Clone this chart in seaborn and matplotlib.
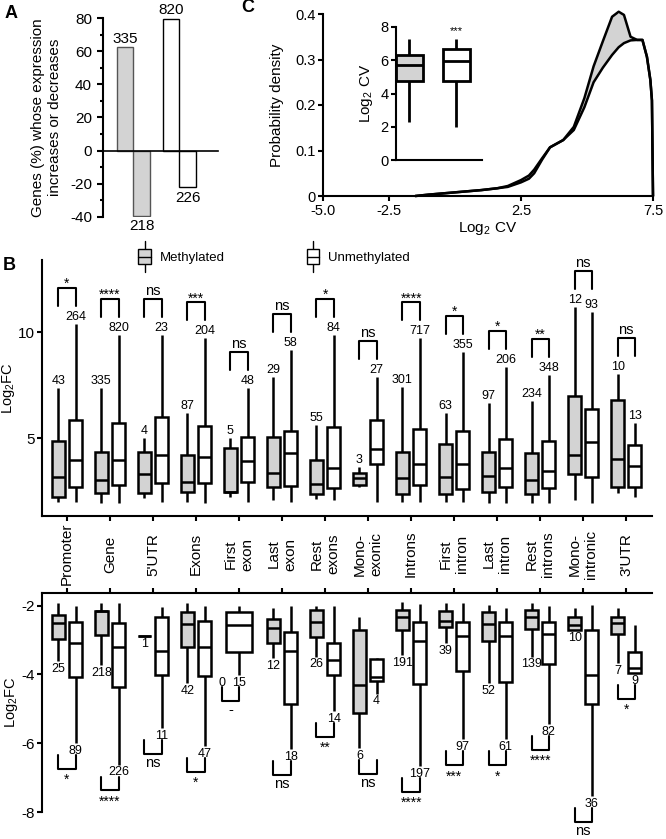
import numpy as np
import pandas as pd
import matplotlib.pyplot as plt
import seaborn as sns
from matplotlib.legend_handler import HandlerBase
from matplotlib.patches import Patch, Rectangle
from matplotlib.lines import Line2D
from matplotlib.ticker import MultipleLocator

# ---- panel A: % of genes going up / down
bar_groups = ['Methylated', 'Unmethylated']
bar_dirs = ['Up', 'Down']
bar_pct = [62.3, -39.2, 79.4, -22.1]
bar_counts = [335, 218, 820, 226]

# ---- panel B
groups = ['Methylated', 'Unmethylated']
regions = ['Promoter', 'Gene', "5'UTR", 'Exons', 'First\nexon', 'Last\nexon',
           'Rest\nexons', 'Mono-\nexonic', 'Introns', 'First\nintron',
           'Last\nintron', 'Rest\nintrons', 'Mono-\nintronic', "3'UTR"]

# [low whisker, Q1, median, Q3, high whisker] of Log2FC
meth_up = [
    [2.00, 2.23, 3.18, 4.86, 7.34], [1.92, 2.39, 3.02, 4.36, 7.34],
    [2.15, 2.39, 3.30, 4.36, 4.98], [2.00, 2.47, 2.94, 4.20, 6.19],
    [2.23, 2.47, 2.47, 4.51, 4.98], [2.08, 2.67, 3.36, 5.03, 7.89],
    [2.10, 2.36, 2.83, 3.96, 5.61], [2.67, 2.78, 3.10, 3.36, 3.65],
    [2.00, 2.34, 3.10, 4.36, 7.42], [2.00, 2.36, 3.14, 4.70, 6.16],
    [1.95, 2.47, 3.21, 4.36, 6.67], [1.95, 2.36, 3.02, 4.28, 6.76],
    [2.08, 3.30, 4.20, 7.00, 11.2], [2.42, 2.67, 4.00, 6.79, 8.02],
]
unmeth_up = [
    [2.00, 2.67, 3.96, 5.85, 10.38], [1.92, 2.78, 3.96, 5.69, 9.86],
    [2.00, 2.86, 4.20, 5.97, 9.86], [1.92, 2.86, 4.09, 5.58, 9.70],
    [2.00, 2.94, 3.93, 5.06, 7.34], [2.00, 2.74, 4.31, 5.35, 9.15],
    [2.08, 2.63, 3.57, 5.53, 9.86], [2.00, 3.76, 4.47, 5.85, 7.89],
    [2.00, 2.78, 3.76, 5.41, 9.70], [2.00, 2.61, 3.76, 5.33, 9.07],
    [1.95, 2.70, 3.57, 4.95, 8.36], [1.92, 2.63, 3.46, 4.86, 7.97],
    [1.95, 3.18, 4.80, 6.35, 10.96], [2.23, 2.67, 3.68, 4.67, 5.72],
]
meth_up_n = [43, 335, 4, 87, 5, 29, 55, 3, 301, 63, 97, 234, 12, 10]
unmeth_up_n = [264, 820, 23, 204, 48, 58, 84, 27, 717, 355, 206, 348, 93, 13]
up_sig = ['*', '****', 'ns', '***', 'ns', 'ns', '*', 'ns', '****', '*', '*',
          '**', 'ns', 'ns']

meth_down = [
    [-3.62, -2.97, -2.49, -2.27, -1.93], [-3.72, -2.85, -2.15, -2.15, -1.93],
    [-2.88, -2.88, -2.88, -2.88, -2.88], [-4.25, -3.21, -2.54, -2.17, -1.93],
    None, [-3.53, -3.09, -2.66, -2.40, -2.08],
    [-3.48, -2.92, -2.46, -2.13, -2.01], [-6.14, -5.12, -4.32, -2.71, -2.34],
    [-3.43, -2.71, -2.34, -2.13, -1.88], [-3.09, -2.61, -2.44, -2.15, -1.93],
    [-4.25, -3.04, -2.54, -2.19, -1.98], [-3.48, -2.69, -2.34, -2.13, -1.93],
    [-2.71, -2.71, -2.56, -2.32, -2.08], [-3.67, -2.83, -2.49, -2.32, -2.08],
]
unmeth_down = [
    [-5.99, -4.08, -3.09, -2.46, -2.01], [-6.62, -4.35, -3.19, -2.51, -1.93],
    [-5.56, -4.01, -3.33, -2.32, -2.03], [-6.09, -4.04, -3.19, -2.43, -2.01],
    [-4.01, -3.36, -2.56, -2.17, -2.01], [-6.18, -4.85, -3.33, -2.75, -2.01],
    [-5.07, -4.01, -3.59, -3.09, -2.01], [-4.56, -4.18, -4.06, -3.56, -3.53],
    [-6.67, -4.28, -3.04, -2.46, -1.96], [-5.89, -3.91, -2.88, -2.46, -1.93],
    [-5.89, -4.22, -2.88, -2.46, -2.08], [-5.44, -3.70, -2.83, -2.46, -2.01],
    [-7.54, -4.85, -4.01, -2.71, -1.98], [-3.96, -3.96, -3.80, -3.36, -2.56],
]
meth_down_n = [25, 218, 1, 42, 0, 12, 26, 6, 191, 39, 52, 139, 10, 7]
unmeth_down_n = [89, 226, 11, 47, 15, 18, 14, 4, 197, 97, 61, 82, 36, 9]
down_sig = ['*', '****', 'ns', '*', '-', 'ns', '**', 'ns', '****', '***', '*',
            '****', 'ns', '*']

# ---- panel C: density of Log2 CV
cv_x = [-1.5, -1.0, 0.0, 1.0, 1.6, 2.0, 2.5, 2.8, 3.0, 3.3, 3.6, 4.1, 4.5,
        4.9, 5.25, 5.6, 5.95, 6.2, 6.4, 6.65, 6.9, 7.1, 7.27, 7.4, 7.46, 7.5]
cv_meth = [0.0, 0.003, 0.008, 0.013, 0.017, 0.022, 0.035, 0.045, 0.058, 0.083,
           0.107, 0.123, 0.152, 0.215, 0.285, 0.34, 0.394, 0.405, 0.398, 0.35,
           0.343, 0.343, 0.306, 0.255, 0.21, 0.0]
cv_unmeth = [0.0, 0.003, 0.008, 0.013, 0.017, 0.02, 0.03, 0.038, 0.05, 0.08,
             0.107, 0.123, 0.145, 0.195, 0.25, 0.282, 0.31, 0.327, 0.336, 0.342,
             0.343, 0.343, 0.306, 0.255, 0.21, 0.0]
inset_meth = [2.3, 4.76, 5.7, 6.34, 7.26]
inset_unmeth = [2.0, 4.76, 5.94, 6.7, 7.26]

GRAY = '#d3d3d3'
palette = {'Methylated': GRAY, 'Unmethylated': 'white'}

sns.set_style('ticks')
plt.rcParams['font.family'] = ['Liberation Sans', 'DejaVu Sans']
plt.rcParams['mathtext.default'] = 'regular'
plt.rcParams['axes.unicode_minus'] = False
for k in ['axes.edgecolor', 'xtick.color', 'ytick.color', 'text.color',
          'axes.labelcolor']:
    plt.rcParams[k] = 'black'
plt.rcParams['axes.linewidth'] = 1.5
plt.rcParams['xtick.major.width'] = 1.5
plt.rcParams['ytick.major.width'] = 1.5
plt.rcParams['ytick.minor.width'] = 1.5
plt.rcParams['xtick.major.size'] = 3.5
plt.rcParams['ytick.major.size'] = 3.5
plt.rcParams['ytick.minor.size'] = 2.5

W, H = 666, 839
fig = plt.figure(figsize=(W / 100, H / 100), dpi=100)


def rect(x0, y0, x1, y1):
    return [x0 / W, 1 - y1 / H, (x1 - x0) / W, (y1 - y0) / H]


class BoxHandle(HandlerBase):
    def create_artists(self, legend, orig_handle, xdescent, ydescent, width,
                       height, fontsize, trans):
        cx = width / 2 - xdescent
        cy = height / 2 - ydescent
        bw, bh, wh = 0.95 * fontsize, 1.2 * fontsize, 1.15 * fontsize
        box = Rectangle((cx - bw / 2, cy - bh / 2), bw, bh,
                        facecolor=orig_handle.get_facecolor(),
                        edgecolor='black', lw=1, transform=trans)
        med = Line2D([cx - bw / 2, cx + bw / 2], [cy, cy], color='black',
                     lw=1, transform=trans)
        top = Line2D([cx, cx], [cy + bh / 2, cy + wh], color='black', lw=1,
                     transform=trans)
        bot = Line2D([cx, cx], [cy - wh, cy - bh / 2], color='black', lw=1,
                     transform=trans)
        return [top, bot, box, med]


# ================= A
axA = fig.add_axes(rect(103, 18, 218, 217))
bar_df = pd.DataFrame({'group': np.repeat(bar_groups, 2),
                       'direction': bar_dirs * 2, 'pct': bar_pct})
sns.barplot(data=bar_df, x='group', y='pct', hue='direction',
            hue_order=bar_dirs, width=0.7, saturation=1, errorbar=None,
            legend=False, ax=axA)
bars = sorted(axA.patches, key=lambda p: p.get_x())
for p, n in zip(bars, bar_counts):
    cx = p.get_x() + p.get_width() / 2
    gray = cx < 0.5
    p.set_facecolor(GRAY if gray else 'white')
    p.set_edgecolor('#555555' if gray else 'black')
    p.set_linewidth(1)
    val = p.get_height()
    if val > 0:
        axA.text(cx, val + 1, str(n), ha='center', va='bottom', fontsize=11,
                 clip_on=False)
    else:
        axA.text(cx, val - 2, str(n), ha='center', va='top', fontsize=11,
                 clip_on=False)
axA.set_ylim(-40, 80)
axA.set_xlim(-0.663, 1.837)
axA.set_yticks(range(-40, 81, 20))
axA.yaxis.set_minor_locator(MultipleLocator(10))
axA.spines[['top', 'right']].set_visible(False)
axA.spines['bottom'].set_position(('data', 0))
axA.spines['bottom'].set_linewidth(1.2)
axA.tick_params(axis='x', length=0, labelbottom=False)
axA.tick_params(axis='y', labelsize=11, which='major', length=4.5)
axA.set_xlabel('')
axA.set_ylabel('Genes (%) whose expression\nincreases or decreases',
               fontsize=11, labelpad=6)

# ================= C
axC = fig.add_axes(rect(323, 14, 653, 196))
axC.fill_between(cv_x, cv_unmeth, cv_meth, color=GRAY, lw=0, zorder=1)
sns.lineplot(x=cv_x, y=cv_meth, color='black', lw=1.8, ax=axC)
sns.lineplot(x=cv_x, y=cv_unmeth, color='black', lw=1.8, ax=axC)
for ln in axC.lines:
    ln.set_clip_on(False)
axC.set_xlim(-5, 7.5)
axC.set_ylim(0, 0.4)
axC.set_xticks([-5, -2.5, 2.5, 7.5])
axC.set_xticklabels(['-5.0', '-2.5', '2.5', '7.5'])
axC.set_yticks([0, 0.1, 0.2, 0.3, 0.4])
axC.set_yticklabels(['0', '0.1', '0.2', '0.3', '0.4'])
axC.tick_params(labelsize=10.5, pad=2)
axC.spines[['top', 'right']].set_visible(False)
axC.set_xlabel('Log$_2$ CV', fontsize=11, labelpad=2)
axC.set_ylabel('Probability density', fontsize=11, labelpad=8)

axIn = fig.add_axes(rect(396, 27, 482, 160))
axIn.set_facecolor('none')
inset_df = pd.DataFrame({'group': np.repeat(groups, 5),
                         'cv': inset_meth + inset_unmeth})
sns.boxplot(data=inset_df, x='group', y='cv', hue='group', hue_order=groups,
            palette=palette, width=0.58, whis=(0, 100), showcaps=False,
            linecolor='black', linewidth=2, saturation=1, fliersize=0,
            legend=False, ax=axIn)
axIn.text(1, 7.45, '***', ha='center', va='bottom', fontsize=8)
axIn.set_xlim(-0.28, 1.55)
axIn.set_ylim(0, 8)
axIn.set_yticks([0, 2, 4, 6, 8])
axIn.tick_params(axis='x', length=0, labelbottom=False)
axIn.tick_params(axis='y', labelsize=10.5, pad=2)
axIn.spines[['top', 'right']].set_visible(False)
axIn.set_xlabel('')
axIn.set_ylabel('Log$_2$ CV', fontsize=11, labelpad=4)


# ================= B
def box_frames(meth, unmeth):
    paired, solo = [], []
    for region, m, u in zip(regions, meth, unmeth):
        target = paired if (m is not None and u is not None) else solo
        for grp, st in (('Methylated', m), ('Unmethylated', u)):
            if st is not None:
                target += [(region, grp, v) for v in st]
    cols = ['region', 'group', 'log2fc']
    return pd.DataFrame(paired, columns=cols), pd.DataFrame(solo, columns=cols)


def draw_boxes(ax, meth, unmeth):
    paired, solo = box_frames(meth, unmeth)
    kw = dict(x='region', y='log2fc', hue='group', order=regions,
              hue_order=groups, palette=palette, whis=(0, 100),
              showcaps=False, linecolor='black', linewidth=1.8, saturation=1,
              fliersize=0, legend=False, ax=ax)
    sns.boxplot(data=paired, width=0.8, gap=0.25, **kw)
    if len(solo):
        sns.boxplot(data=solo, width=0.6, dodge=False, **kw)


def sig_text(ax, x, y, s, up):
    star = s not in ('ns', '-')
    size = 10 if star else 10.5
    if up:
        ax.text(x, y + (-0.15 if star else 0.05), s, ha='center', va='bottom',
                fontsize=size, clip_on=False)
    else:
        ax.text(x, y - (0.12 if star else 0.06), s, ha='center', va='top',
                fontsize=size, clip_on=False)


axUp = fig.add_axes(rect(42, 260, 652, 516))
axDn = fig.add_axes(rect(42, 593, 652, 812))
draw_boxes(axUp, meth_up, unmeth_up)
draw_boxes(axDn, meth_down, unmeth_down)

for i, (m, u) in enumerate(zip(meth_up, unmeth_up)):
    gx, wx = i - 0.2, i + 0.2
    axUp.text(gx, m[4] + 0.05, str(meth_up_n[i]), ha='center', va='bottom',
              fontsize=9)
    axUp.text(wx, u[4] + 0.05, str(unmeth_up_n[i]), ha='center', va='bottom',
              fontsize=9)
    y0 = max(m[4], u[4]) + 0.85
    y1 = y0 + 0.85
    axUp.plot([gx, gx, wx, wx], [y0, y1, y1, y0], color='black', lw=1.5,
              clip_on=False)
    sig_text(axUp, i, y1, up_sig[i], True)

for i, (m, u) in enumerate(zip(meth_down, unmeth_down)):
    if m is None:
        gx, wx = i - 0.4, i
        lo_m = u[0]
    else:
        gx, wx = i - 0.2, i + 0.2
        lo_m = m[0]
    axDn.text(gx, lo_m - 0.05, str(meth_down_n[i]), ha='center', va='top',
              fontsize=9)
    axDn.text(wx, u[0] - 0.05, str(unmeth_down_n[i]), ha='center', va='top',
              fontsize=9)
    y0 = min(lo_m, u[0]) - 0.35
    y1 = y0 - 0.4
    axDn.plot([gx, gx, wx, wx], [y0, y1, y1, y0], color='black', lw=1.5,
              clip_on=False)
    sig_text(axDn, (gx + wx) / 2, y1, down_sig[i], False)

for ax in (axUp, axDn):
    ax.set_xlim(-0.58, 13.6)
    ax.set_xlabel('')
    ax.set_ylabel('Log$_2$FC', fontsize=10.5, labelpad=1)
    ax.tick_params(axis='y', labelsize=11, pad=1.5)

axUp.set_ylim(1.32, 13.4)
axUp.set_yticks([5, 10])
axUp.spines[['top', 'right']].set_visible(False)
axUp.set_xticks(range(len(regions)))
axUp.tick_params(axis='x', labelbottom=False)

axDn.set_ylim(-8.0, -1.63)
axDn.set_yticks([-2, -4, -6, -8])
axDn.spines[['bottom', 'right']].set_visible(False)
axDn.xaxis.tick_top()
axDn.set_xticks(range(len(regions)))
axDn.set_xticklabels(regions, rotation=90, va='center', ha='center',
                     multialignment='center', fontsize=11)
axDn.tick_params(axis='x', pad=24.5)

handles = [Patch(facecolor=palette[g]) for g in groups]
fig.legend(handles, groups, handler_map={Patch: BoxHandle()},
           loc='center left', bbox_to_anchor=(138 / W, 1 - 258 / H), ncol=2,
           frameon=False, fontsize=9.5, handlelength=1.0, handletextpad=0.65,
           columnspacing=6.2, borderpad=0, borderaxespad=0)

for lab, x, y in (('A', 11, 13), ('B', 9, 266), ('C', 248, 8)):
    fig.text(x / W, 1 - y / H, lab, fontsize=13, fontweight='bold',
             ha='center', va='center')

fig.savefig('out.png', dpi=100)
